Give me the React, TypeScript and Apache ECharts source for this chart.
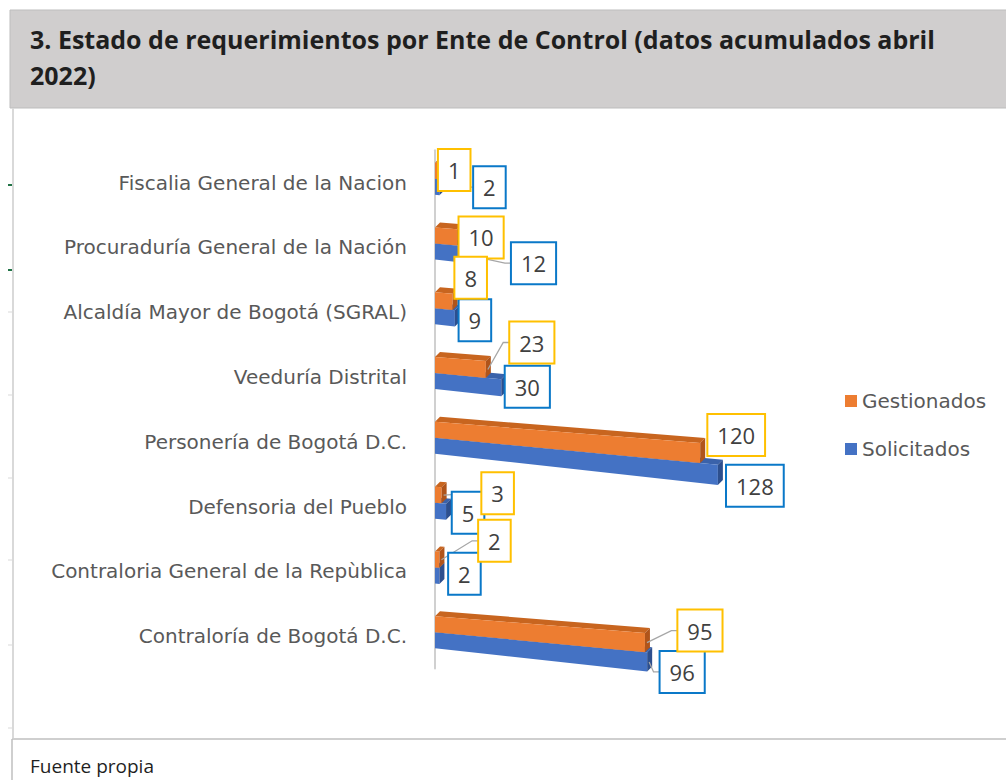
import React, { useEffect, useRef } from "react";
import * as echarts from "echarts";

// ---- data ----
const categories = [
  "Fiscalia General de la Nacion",
  "Procuraduría General de la Nación",
  "Alcaldía Mayor de Bogotá (SGRAL)",
  "Veeduría Distrital",
  "Personería de Bogotá D.C.",
  "Defensoria del Pueblo",
  "Contraloria General de la Repùblica",
  "Contraloría de Bogotá D.C.",
];
const gestionados = [1, 10, 8, 23, 120, 3, 2, 95];
const solicitados = [2, 12, 9, 30, 128, 5, 2, 96];
const seriesNames = ["Gestionados", "Solicitados"];
const titleText = "3. Estado de requerimientos por Ente de Control (datos acumulados abril\n2022)";
const footerText = "Fuente propia";

// ---- label placement (relative to bar end), style only ----
const gestionadosLabelShift = [[17, -1], [24, 0], [18, -24], [46, -27], [36, -18], [56, -2], [55, -19], [55, -12]];
const solicitadosLabelShift = [[50, 0], [72, 9], [20, 2], [26, -1], [37, 11], [22, 1], [25, -2], [35, 10]];
const gestionadosLeader = [false, false, false, true, false, true, true, true];
const solicitadosLeader = [true, true, false, false, false, false, false, true];

const ORANGE = { front: "#ED7D31", top: "#C8651F", end: "#B0541A", border: "#FFC000" };
const BLUE = { front: "#4472C4", top: "#3A62AA", end: "#2D4F8E", border: "#0A78C8" };

const LABEL_FONT = "'Open Sans', sans-serif";
const AXIS_FONT = "'DejaVu Sans', sans-serif";

function makeRenderItem(isTop: boolean, shifts: number[][], leaders: boolean[], col: any) {
  return (params: any, api: any) => {
    const v = api.value(0);
    const cat = api.value(1);
    const p0 = api.coord([0, cat]);
    const pe = api.coord([v, cat]);
    const x0 = p0[0];
    const c = p0[1];
    const xe = pe[0];
    const L = xe - x0;
    const topOff = isTop ? -20 : -4;
    const topSlope = isTop ? 0.08 : 0.095;
    const botOff = isTop ? -4 : 12;
    const botSlope = isTop ? 0.095 : 0.11;
    const yT0 = c + topOff;
    const yTE = c + topOff + topSlope * L;
    const yB0 = c + botOff;
    const yBE = c + botOff + botSlope * L;
    const d = 5;
    const children: any[] = [
      {
        type: "polygon",
        shape: { points: [[x0, yT0], [x0 + d, yT0 - d], [xe + d, yTE - d], [xe, yTE]] },
        style: { fill: col.top },
      },
      {
        type: "polygon",
        shape: { points: [[x0, yT0], [xe, yTE], [xe, yBE], [x0, yB0]] },
        style: { fill: col.front },
      },
      {
        type: "polygon",
        shape: { points: [[xe, yTE], [xe + d, yTE - d], [xe + d, yBE - d], [xe, yBE]] },
        style: { fill: col.end },
      },
    ];
    const idx = params.dataIndex;
    const ax = xe;
    const ay = (yTE + yBE) / 2;
    const cx = ax + shifts[idx][0];
    const cy = ay + shifts[idx][1];
    const txt = String(v);
    const w = 18 + 12.6 * txt.length;
    const boxLeft = cx - w / 2;
    if (leaders[idx]) {
      children.push({
        type: "polyline",
        z2: 50,
        shape: { points: [[ax + 2, ay], [boxLeft - 7, cy], [boxLeft, cy]] },
        style: { stroke: "#A6A6A6", lineWidth: 1.3, fill: null },
      });
    }
    children.push({
      type: "text",
      z2: 100,
      style: {
        text: txt,
        x: cx,
        y: cy,
        align: "center",
        verticalAlign: "middle",
        fontSize: 22,
        lineHeight: 24,
        fontFamily: LABEL_FONT,
        fill: "#404040",
        backgroundColor: "#FFFFFF",
        borderColor: col.border,
        borderWidth: 2,
        padding: [8, 9],
      },
    });
    return { type: "group", children };
  };
}

export default function App() {
  const ref = useRef<HTMLDivElement>(null);
  useEffect(() => {
    document.body.style.margin = "0";
    const chart = echarts.init(ref.current!, undefined, { renderer: "svg" });
    const option: any = {
      animation: false,
      backgroundColor: "#FFFFFF",
      legend: {
        data: seriesNames,
        orient: "vertical",
        left: 840,
        top: 386,
        itemWidth: 12,
        itemHeight: 12,
        itemGap: 28,
        icon: "rect",
        textStyle: { fontFamily: AXIS_FONT, fontSize: 20, color: "#595959" },
      },
      grid: { left: 435, right: 217.4, top: 150.3, height: 518.3 },
      xAxis: { type: "value", min: 0, max: 160, show: false },
      yAxis: {
        type: "category",
        data: categories,
        inverse: true,
        offset: 4,
        axisLine: { show: true, lineStyle: { color: "#D0D0D0", width: 2 } },
        axisTick: { show: false },
        axisLabel: { margin: 24, fontFamily: AXIS_FONT, fontSize: 20, color: "#595959" },
      },
      series: [
        {
          name: seriesNames[1],
          type: "custom",
          itemStyle: { color: BLUE.front },
          encode: { x: 0, y: 1 },
          data: solicitados.map((v, i) => [v, i]),
          renderItem: makeRenderItem(false, solicitadosLabelShift, solicitadosLeader, BLUE),
        },
        {
          name: seriesNames[0],
          type: "custom",
          itemStyle: { color: ORANGE.front },
          encode: { x: 0, y: 1 },
          data: gestionados.map((v, i) => [v, i]),
          renderItem: makeRenderItem(true, gestionadosLabelShift, gestionadosLeader, ORANGE),
        },
      ],
      graphic: [
        {
          type: "rect",
          shape: { x: 10, y: 10, width: 1000, height: 98 },
          style: { fill: "#D0CECE", stroke: "#BDBDBD", lineWidth: 1 },
        },
        {
          type: "text",
          style: {
            text: titleText,
            x: 30,
            y: 21,
            fontFamily: "'Open Sans', sans-serif",
            fontWeight: "bold",
            fontSize: 25,
            lineHeight: 36,
            fill: "#1F1F1F",
          },
        },
        {
          type: "line",
          shape: { x1: 13, y1: 108, x2: 13, y2: 738 },
          style: { stroke: "#D9D9D9", lineWidth: 2 },
        },
        { type: "line", shape: { x1: 8, y1: 185, x2: 12, y2: 185 }, style: { stroke: "#217346", lineWidth: 2 } },
        { type: "line", shape: { x1: 8, y1: 270, x2: 12, y2: 270 }, style: { stroke: "#217346", lineWidth: 2 } },
        { type: "line", shape: { x1: 8, y1: 312, x2: 12, y2: 312 }, style: { stroke: "#D9D9D9", lineWidth: 1 } },
        { type: "line", shape: { x1: 8, y1: 395, x2: 12, y2: 395 }, style: { stroke: "#D9D9D9", lineWidth: 1 } },
        { type: "line", shape: { x1: 8, y1: 478, x2: 12, y2: 478 }, style: { stroke: "#D9D9D9", lineWidth: 1 } },
        { type: "line", shape: { x1: 8, y1: 560, x2: 12, y2: 560 }, style: { stroke: "#D9D9D9", lineWidth: 1 } },
        { type: "line", shape: { x1: 8, y1: 645, x2: 12, y2: 645 }, style: { stroke: "#D9D9D9", lineWidth: 1 } },
        { type: "line", shape: { x1: 8, y1: 728, x2: 12, y2: 728 }, style: { stroke: "#D9D9D9", lineWidth: 1 } },
        {
          type: "line",
          shape: { x1: 12, y1: 739, x2: 1006, y2: 739 },
          style: { stroke: "#BFBFBF", lineWidth: 1.5 },
        },
        {
          type: "line",
          shape: { x1: 12, y1: 739, x2: 12, y2: 780 },
          style: { stroke: "#BFBFBF", lineWidth: 1.5 },
        },
        {
          type: "text",
          style: {
            text: footerText,
            x: 30,
            y: 766,
            verticalAlign: "middle",
            fontFamily: "'Open Sans', sans-serif",
            fontSize: 19,
            fill: "#1F1F1F",
          },
        },
      ],
    };
    chart.setOption(option);
    return () => chart.dispose();
  }, []);
  return <div ref={ref} style={{ width: 1006, height: 780 }} />;
}
